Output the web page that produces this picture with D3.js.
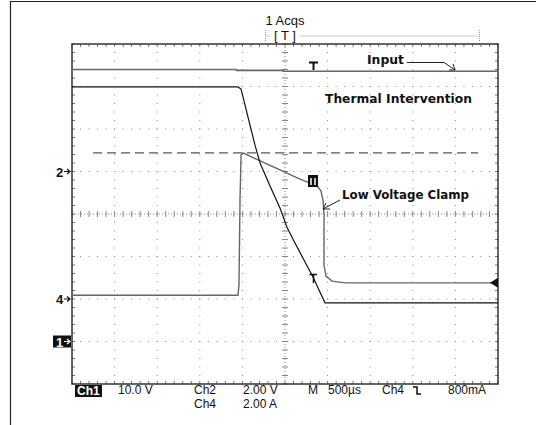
<!DOCTYPE html>
<html>
<head>
<meta charset="utf-8">
<script src="https://cdn.jsdelivr.net/npm/d3@7"></script>
<style>
  body { margin: 0; background: #fff; }
  svg { display: block; }
  .ro { font-family: "Liberation Sans", Arial, sans-serif; font-size: 13px; fill: #111; }
  .rd { font-family: "Liberation Sans", Arial, sans-serif; font-size: 12px; fill: #111; }
  .note { font-family: "Comic Sans MS", "DejaVu Sans", sans-serif; font-size: 13px; font-weight: bold; fill: #111; }
</style>
</head>
<body>
<div id="scope"></div>
<script>
// time in µs (500 µs/div, 10 div), vertical in screen divisions (-4..4)
const inputTime = [0, 1925, 1930, 2477, 2480, 5000];
const inputDiv  = [3.40, 3.40, 3.38, 3.38, 3.36, 3.36];

const thermalTime = [0, 1948, 1984, 2031, 2089, 2148, 2207, 2324, 2441, 2523, 2617, 2735, 2829, 2911, 2970, 5000];
const thermalDiv  = [2.99, 2.99, 2.94, 2.56, 2.09, 1.62, 1.20, 0.66, 0.14, -0.31, -0.68, -1.13, -1.48, -1.84, -2.09, -2.09];

const clampTime = [0, 1948, 1960, 1972, 1984, 2007, 2207, 2441, 2676, 2817, 2887, 2923, 2946, 2958, 2958, 2981, 3052, 3204, 5000];
const clampDiv  = [-1.91, -1.91, -1.67, 0.33, 1.39, 1.44, 1.25, 1.04, 0.82, 0.71, 0.64, 0.54, 0.33, -0.02, -1.20, -1.46, -1.58, -1.62, -1.62];

const limitTime = [246, 4765];
const limitDiv  = [1.44, 1.44];

const markerLabels = ["2", "4", "1"];
const markerDiv    = [1, -2, -3];

const readoutTop = ["10.0 V", "Ch2", "2.00 V", "M", "500µs", "Ch4", "800mA"];
const readoutBottom = ["Ch4", "2.00 A"];

const W = 536, H = 425;
const margin = { top: 44, right: 38, bottom: 41, left: 72 };

const svg = d3.select("#scope").append("svg")
  .attr("width", W).attr("height", H)
  .attr("viewBox", `0 0 ${W} ${H}`);

svg.append("rect").attr("width", W).attr("height", H).attr("fill", "#fff");

const x = d3.scaleLinear().domain([0, 5000]).range([margin.left, W - margin.right]);
const y = d3.scaleLinear().domain([-4, 4]).range([H - margin.bottom, margin.top]);

// outer frame
svg.append("path").attr("d", `M10.5,${H} V1.5 H${W}`)
  .attr("fill", "none").attr("stroke", "#222").attr("stroke-width", 1.2);

// graticule
const grid = svg.append("g");
const minorT = d3.range(0, 5000.1, 100);
const minorV = d3.range(-4, 4.01, 0.2);

// dots along major lines
d3.range(1, 8).filter(k => k !== 4).forEach(k => {
  const v = k - 4;
  grid.selectAll(null).data(minorT).enter().append("rect")
    .attr("x", d => x(d) - 0.5).attr("y", y(v) - 0.5)
    .attr("width", 1).attr("height", 1).attr("fill", "#888");
});
d3.range(1, 10).filter(k => k !== 5).forEach(k => {
  const t = k * 500;
  grid.selectAll(null).data(minorV).enter().append("rect")
    .attr("x", x(t) - 0.5).attr("y", d => y(d) - 0.5)
    .attr("width", 1).attr("height", 1).attr("fill", "#888");
});

// center lines
grid.append("line").attr("x1", x(0)).attr("x2", x(5000)).attr("y1", y(0)).attr("y2", y(0))
  .attr("stroke", "#888").attr("stroke-dasharray", "1,2");
grid.append("line").attr("x1", x(2500)).attr("x2", x(2500)).attr("y1", y(-4)).attr("y2", y(4))
  .attr("stroke", "#888").attr("stroke-dasharray", "1,2");
grid.selectAll(null).data(minorT).enter().append("line")
  .attr("x1", d => x(d)).attr("x2", d => x(d))
  .attr("y1", y(0) - 3).attr("y2", y(0) + 3)
  .attr("stroke", "#888");
grid.selectAll(null).data(minorV).enter().append("line")
  .attr("x1", x(2500) - 3).attr("x2", x(2500) + 3)
  .attr("y1", d => y(d)).attr("y2", d => y(d))
  .attr("stroke", "#888");

// border ticks
grid.selectAll(null).data(minorT).enter().append("path")
  .attr("d", d => `M${x(d)},${y(4)} v3 M${x(d)},${y(-4)} v-3`)
  .attr("stroke", "#777");
grid.selectAll(null).data(minorV).enter().append("path")
  .attr("d", d => `M${x(0)},${y(d)} h3 M${x(5000)},${y(d)} h-3`)
  .attr("stroke", "#777");

svg.append("rect")
  .attr("x", x(0)).attr("y", y(4))
  .attr("width", x(5000) - x(0)).attr("height", y(-4) - y(4))
  .attr("fill", "none").attr("stroke", "#333").attr("stroke-width", 1.5);

// record bracket
svg.append("path")
  .attr("d", `M265.5,36 H479.5 M265.5,30 V41 M479.5,30 V41`)
  .attr("stroke", "#999").attr("stroke-dasharray", "1,1").attr("fill", "none");
svg.append("rect").attr("x", 270).attr("y", 29).attr("width", 30).attr("height", 14).attr("fill", "#fff");
svg.append("text").attr("class", "ro").attr("x", x(2500)).attr("y", 25)
  .attr("text-anchor", "middle").text("1 Acqs");
svg.append("text").attr("class", "ro").attr("x", x(2500)).attr("y", 40)
  .attr("text-anchor", "middle").text("[ T ]");

// traces
const line = (ts, vs) => d3.line().x(i => x(ts[i])).y(i => y(vs[i]))(d3.range(ts.length));

svg.append("path").attr("d", line(limitTime, limitDiv))
  .attr("fill", "none").attr("stroke", "#555").attr("stroke-width", 1.3)
  .attr("stroke-dasharray", "9,5");

svg.append("path").attr("d", line(inputTime, inputDiv))
  .attr("fill", "none").attr("stroke", "#666").attr("stroke-width", 1.6);

svg.append("path").attr("d", line(clampTime, clampDiv))
  .attr("fill", "none").attr("stroke", "#666").attr("stroke-width", 1.4);

svg.append("path").attr("d", line(thermalTime, thermalDiv))
  .attr("fill", "none").attr("stroke", "#111").attr("stroke-width", 1.2);

// trace markers
svg.append("path").attr("d", `M309,62.5 H318 M313.5,62.5 V70`)
  .attr("stroke", "#111").attr("stroke-width", 2);
svg.append("path").attr("d", `M309.5,274.5 H317 M313.5,274.5 V283`)
  .attr("stroke", "#111").attr("stroke-width", 1.5);
svg.append("rect").attr("x", 308).attr("y", 175).attr("width", 10).attr("height", 12).attr("fill", "#111");
svg.append("path").attr("d", `M311,178 V185 M315,178 V185`)
  .attr("stroke", "#fff").attr("stroke-width", 1.5);
svg.append("path").attr("d", `M490,${y(-1.62)} L498,${y(-1.62) - 5} L498,${y(-1.62) + 5} Z`)
  .attr("fill", "#111");

// ground markers
const mk = svg.append("g");
markerLabels.forEach((lab, i) => {
  const yy = y(markerDiv[i]);
  const inv = lab === "1";
  if (inv) mk.append("rect").attr("x", 53).attr("y", yy - 6).attr("width", 18).attr("height", 12).attr("fill", "#111");
  mk.append("text").attr("class", "ro").attr("x", 56).attr("y", yy + 5)
    .style("font-weight", "bold").style("fill", inv ? "#fff" : "#111").text(lab);
  mk.append("path").attr("d", `M64,${yy} H70 M67,${yy - 2.5} L70,${yy} L67,${yy + 2.5}`)
    .attr("stroke", inv ? "#fff" : "#111").attr("fill", "none").attr("stroke-width", 1.2);
});

// annotations
svg.append("text").attr("class", "note").attr("x", 367).attr("y", 64)
  .attr("textLength", 37).attr("lengthAdjust", "spacingAndGlyphs").text("Input");
svg.append("path").attr("d", `M407,62.5 H444 L455,70`)
  .attr("stroke", "#222").attr("fill", "none");
svg.append("path").attr("d", `M449,70 L455,70 L453,64`)
  .attr("stroke", "#222").attr("fill", "none");
svg.append("text").attr("class", "note").attr("x", 325).attr("y", 103)
  .attr("textLength", 147).attr("lengthAdjust", "spacingAndGlyphs").text("Thermal Intervention");
svg.append("text").attr("class", "note").attr("x", 342).attr("y", 199)
  .attr("textLength", 127).attr("lengthAdjust", "spacingAndGlyphs").text("Low Voltage Clamp");
svg.append("path").attr("d", `M340,200 L323,209`)
  .attr("stroke", "#222").attr("fill", "none");
svg.append("path").attr("d", `M326,203 L323,209 L330,209`)
  .attr("stroke", "#222").attr("fill", "none");

// readout
svg.append("rect").attr("x", 75).attr("y", 385).attr("width", 27).attr("height", 12).attr("fill", "#111");
svg.append("text").attr("class", "rd").attr("x", 77).attr("y", 395)
  .style("fill", "#fff").style("font-weight", "bold").text("Ch1");
const topX = [118, 194, 243, 308, 328, 382, 448];
readoutTop.forEach((t, i) => {
  svg.append("text").attr("class", "rd").attr("x", topX[i]).attr("y", 394).text(t);
});
svg.append("path").attr("d", `M413,387 H417 V394 H421`).attr("stroke", "#111").attr("fill", "none").attr("stroke-width", 1.5);
const botX = [194, 243];
readoutBottom.forEach((t, i) => {
  svg.append("text").attr("class", "rd").attr("x", botX[i]).attr("y", 408).text(t);
});
</script>
</body>
</html>
